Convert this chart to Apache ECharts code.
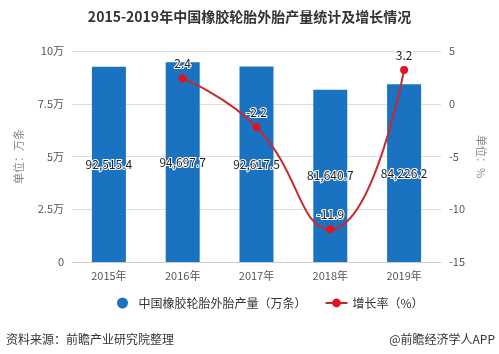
<!DOCTYPE html>
<html>
<head>
<meta charset="utf-8">
<script src="https://cdn.jsdelivr.net/npm/echarts@6/dist/echarts.min.js"></script>
<style>
  html, body { margin: 0; padding: 0; background: #fff; }
  #chart { width: 499px; height: 354px; }
</style>
</head>
<body>
<div id="chart"></div>
<script>
const years = ['2015年', '2016年', '2017年', '2018年', '2019年']
const output = [92515.4, 94697.7, 92617.5, 81640.7, 84226.2]
const growth = [null, 2.4, -2.2, -11.9, 3.2]
const leftTicks = { min: 0, max: 100000, interval: 25000 }
const rightTicks = { min: -15, max: 5, interval: 5 }

const myChart = echarts.init(document.getElementById('chart'))
const font = '"Microsoft YaHei", "Noto Sans CJK SC", sans-serif'

myChart.setOption({
  textStyle: { fontFamily: font },
  title: {
    text: '2015-2019年中国橡胶轮胎外胎产量统计及增长情况',
    left: 'center',
    top: 5,
    textStyle: { fontSize: 14, fontWeight: 'bold', color: '#333', fontFamily: font }
  },
  grid: { left: 72, right: 58, top: 51, bottom: 92 },
  legend: {
    bottom: 40,
    left: 112,
    itemGap: 18,
    itemWidth: 22,
    itemHeight: 11,
    textStyle: { fontSize: 12, color: '#333' },
    data: [
      { name: '中国橡胶轮胎外胎产量（万条）', icon: 'circle' },
      { name: '增长率（%）' }
    ]
  },
  graphic: [
    { type: 'text', left: 6, bottom: 9, style: { text: '资料来源：前瞻产业研究院整理', fontSize: 12, fill: '#333', fontFamily: font } },
    { type: 'text', right: 4, bottom: 9, style: { text: '@前瞻经济学人APP', fontSize: 12, fill: '#333', fontFamily: font } }
  ],
  xAxis: {
    type: 'category',
    data: years,
    axisLine: { lineStyle: { color: '#ccc' } },
    axisTick: { alignWithLabel: true, lineStyle: { color: '#ccc' } },
    axisLabel: { color: '#555', fontSize: 11, margin: 8 }
  },
  yAxis: [
    {
      type: 'value',
      ...leftTicks,
      name: '单位：万条',
      nameLocation: 'middle',
      nameGap: 48,
      nameTextStyle: { color: '#888', fontSize: 11 },
      axisLine: { show: false },
      axisTick: { show: false },
      axisLabel: {
        color: '#555', fontSize: 11,
        formatter: v => v === 0 ? '0' : (v / 10000) + '万'
      },
      splitLine: { lineStyle: { color: '#ddd' } }
    },
    {
      type: 'value',
      ...rightTicks,
      name: '单位：%',
      nameLocation: 'middle',
      nameGap: 32,
      nameRotate: -90,
      nameTextStyle: { color: '#888', fontSize: 11 },
      axisLine: { show: false },
      axisTick: { show: false },
      axisLabel: { color: '#555', fontSize: 11 },
      splitLine: { show: false }
    }
  ],
  series: [
    {
      name: '中国橡胶轮胎外胎产量（万条）',
      type: 'bar',
      data: output,
      barWidth: 34,
      itemStyle: { color: '#1a73c0' },
      label: {
        show: true,
        position: 'inside',
        color: '#222',
        fontSize: 12,
        textBorderColor: '#fff',
        textBorderWidth: 2,
        formatter: p => p.value.toLocaleString('en-US', { minimumFractionDigits: 1 })
      }
    },
    {
      name: '增长率（%）',
      type: 'line',
      yAxisIndex: 1,
      data: growth,
      smooth: true,
      symbol: 'circle',
      symbolSize: 8,
      itemStyle: { color: '#e0141e' },
      lineStyle: { color: '#c8282e', width: 2 },
      label: {
        show: true,
        position: 'top',
        color: '#222',
        fontSize: 12,
        textBorderColor: '#fff',
        textBorderWidth: 2
      }
    }
  ]
})
</script>
</body>
</html>
